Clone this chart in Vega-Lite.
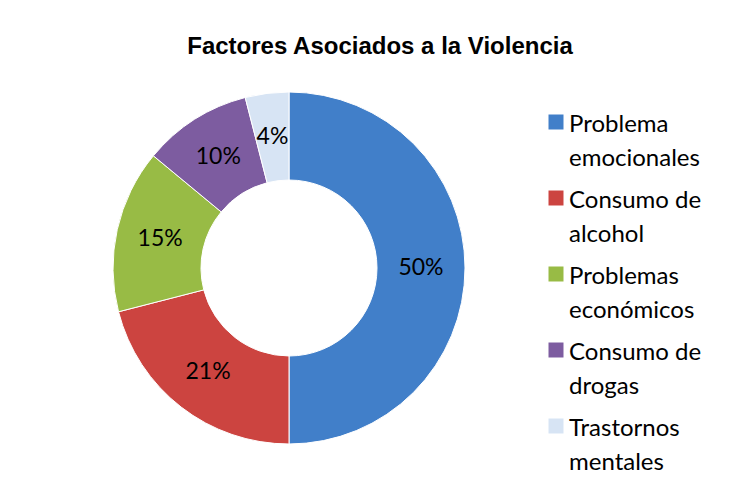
{
  "$schema": "https://vega.github.io/schema/vega-lite/v6.json",
  "width": 380,
  "height": 352,
  "autosize": {"type": "none"},
  "padding": {"left": 99, "top": 92, "right": 260, "bottom": 52},
  "background": "#ffffff",
  "title": {
    "text": "Factores Asociados a la Violencia",
    "font": "Liberation Sans Narrow, Liberation Sans, Arial, sans-serif",
    "fontSize": 24,
    "fontWeight": "bold",
    "color": "#000000",
    "anchor": "middle",
    "offset": 31,
    "dx": 91
  },
  "config": {
    "style": {"guide-label": {"lineHeight": 34}}
  },
  "data": {
    "values": [
      {"factor": "Problema emocionales", "porcentaje": 0.50},
      {"factor": "Consumo de alcohol", "porcentaje": 0.21},
      {"factor": "Problemas económicos", "porcentaje": 0.15},
      {"factor": "Consumo de drogas", "porcentaje": 0.10},
      {"factor": "Trastornos mentales", "porcentaje": 0.04}
    ]
  },
  "encoding": {
    "theta": {"field": "porcentaje", "type": "quantitative", "stack": true},
    "order": {"field": "porcentaje", "type": "quantitative", "sort": "descending"}
  },
  "layer": [
    {
      "mark": {"type": "arc", "outerRadius": 176, "innerRadius": 88, "stroke": "#ffffff", "strokeWidth": 1},
      "encoding": {
        "color": {
          "field": "factor",
          "type": "nominal",
          "sort": null,
          "scale": {"range": ["#417fc9", "#cc4440", "#98bb45", "#7d5ca0", "#d7e4f4"]},
          "legend": {
            "title": null,
            "orient": "none",
            "legendX": 445,
            "legendY": 9,
            "padding": 0,
            "symbolType": "M-1,0.2H1V2.2H-1Z",
            "symbolSize": 225,
            "symbolStrokeWidth": 0,
            "labelFont": "Lato",
            "labelFontSize": 24,
            "labelColor": "#000000",
            "labelOffset": 1,
            "labelBaseline": "top",
            "labelLimit": 300,
            "rowPadding": 6,
            "labelExpr": "[slice(datum.label, 0, lastindexof(datum.label, ' ')), slice(datum.label, lastindexof(datum.label, ' ') + 1)]"
          }
        }
      }
    },
    {
      "mark": {"type": "text", "radius": 132, "font": "Lato", "fontSize": 23, "color": "#000000"},
      "encoding": {
        "text": {"field": "porcentaje", "type": "quantitative", "format": ".0%"}
      }
    }
  ]
}
